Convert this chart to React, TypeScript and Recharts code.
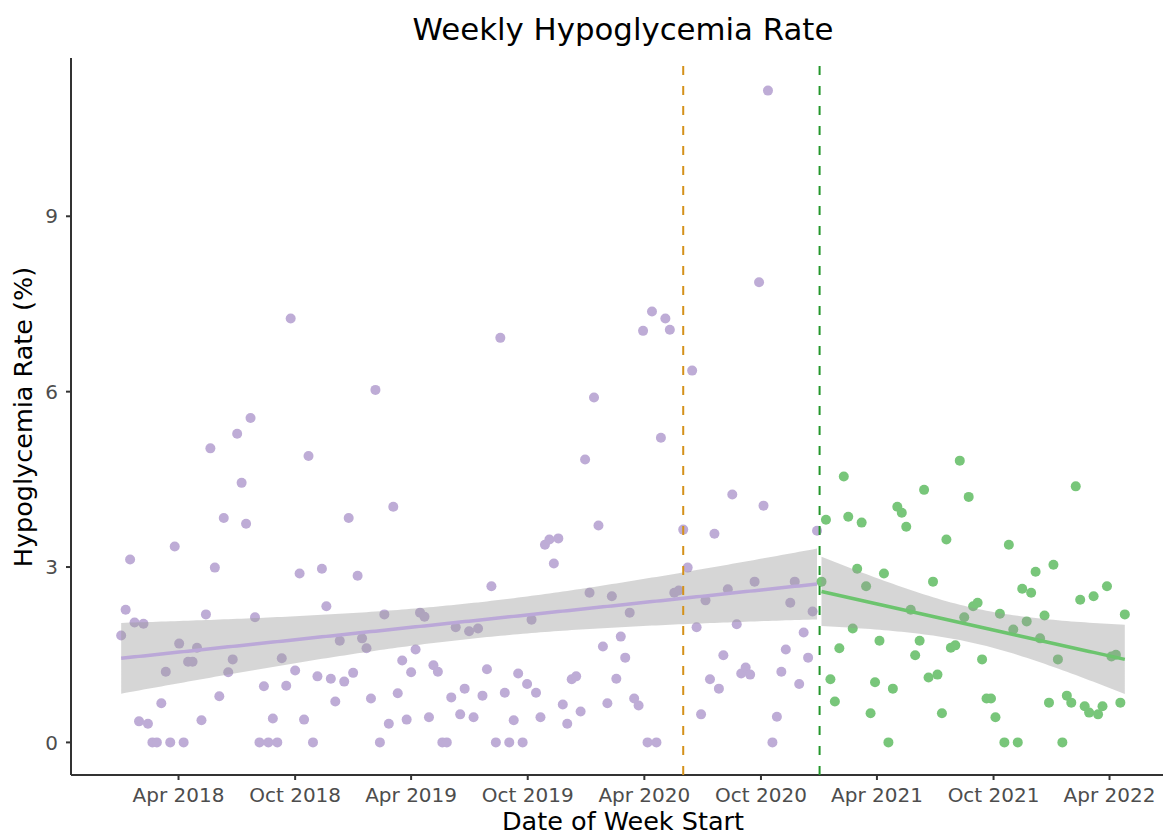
import { ComposedChart, Scatter, Line, Area, XAxis, YAxis, ReferenceLine } from 'recharts';

// weekly series, first week starts on START
const START = '2018-01-01';

// weeks before the green cut-off (purple)
const PRE_VALUES = [
  1.83, 2.27, 3.13, 2.05, 0.36, 2.03, 0.32, 0, 0, 0.67,
  1.21, 0, 3.35, 1.69, 0, 1.38, 1.38, 1.62, 0.38, 2.19,
  5.03, 2.99, 0.79, 3.84, 1.2, 1.42, 5.28, 4.44, 3.74, 5.55,
  2.14, 0, 0.96, 0, 0.41, 0, 1.44, 0.97, 7.25, 1.23,
  2.89, 0.39, 4.9, 0, 1.13, 2.97, 2.33, 1.09, 0.7, 1.74,
  1.04, 3.84, 1.19, 2.85, 1.78, 1.61, 0.75, 6.03, 0, 2.19,
  0.32, 4.03, 0.84, 1.4, 0.39, 1.2, 1.59, 2.22, 2.15, 0.43,
  1.32, 1.21, 0, 0, 0.77, 1.97, 0.48, 0.92, 1.9, 0.43,
  1.95, 0.8, 1.25, 2.67, 0, 6.92, 0.85, 0, 0.38, 1.18,
  0, 1.0, 2.1, 0.85, 0.43, 3.38, 3.47, 3.06, 3.49, 0.65,
  0.32, 1.08, 1.13, 0.53, 4.84, 2.56, 5.9, 3.71, 1.64, 0.67,
  2.5, 1.09, 1.81, 1.45, 2.22, 0.75, 0.63, 7.04, 0, 7.37,
  0, 5.21, 7.25, 7.06, 2.56, 2.6, 3.64, 2.99, 6.36, 1.97,
  0.48, 2.43, 1.08, 3.57, 0.92, 1.49, 2.62, 4.24, 2.02, 1.18,
  1.28, 1.16, 2.75, 7.87, 4.05, 11.15, 0, 0.44, 1.21, 1.59,
  2.39, 2.75, 1.0, 1.88, 1.45, 2.24, 3.62,
];

// weeks from the green cut-off on
const POST_VALUES = [
  2.75, 3.81, 1.08, 0.7, 1.61, 4.55, 3.86, 1.95, 2.97, 3.76,
  2.67, 0.5, 1.03, 1.74, 2.89, 0, 0.92, 4.03, 3.93, 3.69,
  2.27, 1.49, 1.74, 4.32, 1.11, 2.75, 1.16, 0.5, 3.47, 1.62,
  1.66, 4.82, 2.14, 4.2, 2.33, 2.39, 1.42, 0.75, 0.75, 0.43,
  2.2, 0, 3.38, 1.93, 0, 2.63, 2.07, 2.56, 2.92, 1.78,
  2.17, 0.68, 3.04, 1.42, 0, 0.8, 0.68, 4.38, 2.44, 0.62,
  0.51, 2.5, 0.48, 0.62, 2.67, 1.47, 1.5, 0.68, 2.19,
];

const TICK_DATES = [
  '2018-04-01', '2018-10-01', '2019-04-01', '2019-10-01', '2020-04-01',
  '2020-10-01', '2021-04-01', '2021-10-01', '2022-04-01',
];
const TICK_LABELS = [
  'Apr 2018', 'Oct 2018', 'Apr 2019', 'Oct 2019', 'Apr 2020',
  'Oct 2020', 'Apr 2021', 'Oct 2021', 'Apr 2022',
];
const Y_TICKS = [0, 3, 6, 9];

const ORANGE_DATE = '2020-06-01';
const GREEN_DATE = '2021-01-01';

const PURPLE = '#BEACD6';
const GREEN = '#78C67A';
const FONT = '"DejaVu Sans", sans-serif';

const DAY_MS = 86400000;
const dayOf = (s: string) => (Date.parse(s) - Date.parse(START)) / DAY_MS;

const prePoints = PRE_VALUES.map((v, i) => ({ d: i * 7, v }));
const postPoints = POST_VALUES.map((v, j) => ({ d: (PRE_VALUES.length + j) * 7, v }));

// linear fit with 95% confidence band, like geom_smooth(method = "lm")
function fitLm(points: { d: number; v: number }[]) {
  const n = points.length;
  const xbar = points.reduce((s, p) => s + p.d, 0) / n;
  const ybar = points.reduce((s, p) => s + p.v, 0) / n;
  let sxx = 0;
  let sxy = 0;
  points.forEach((p) => {
    sxx += (p.d - xbar) ** 2;
    sxy += (p.d - xbar) * (p.v - ybar);
  });
  const b = sxy / sxx;
  const a = ybar - b * xbar;
  const sse = points.reduce((s, p) => s + (p.v - a - b * p.d) ** 2, 0);
  const sigma = Math.sqrt(sse / (n - 2));
  const t = 1.96 + 2.5 / (n - 2);
  return points.map((p) => {
    const yhat = a + b * p.d;
    const se = sigma * Math.sqrt(1 / n + (p.d - xbar) ** 2 / sxx);
    return { d: p.d, fit: yhat, band: [yhat - t * se, yhat + t * se] };
  });
}

const fitRows = [
  ...fitLm(prePoints).map((r) => ({ d: r.d, preFit: r.fit, preBand: r.band })),
  ...fitLm(postPoints).map((r) => ({ d: r.d, postFit: r.fit, postBand: r.band })),
];

const lastDay = (PRE_VALUES.length + POST_VALUES.length - 1) * 7;
const xPad = lastDay * 0.05;
const maxV = Math.max(...PRE_VALUES, ...POST_VALUES);
const yPad = maxV * 0.05;
const xDomain = [-xPad, lastDay + xPad];
const yDomain = [-yPad, maxV + yPad];

const tickDays = TICK_DATES.map(dayOf);
const tickLabel = (d: number) => TICK_LABELS[tickDays.indexOf(d)] ?? '';

const axisStroke = { stroke: '#333333', strokeWidth: 2 };
const tickStyle = { fill: '#4D4D4D', fontSize: 20, fontFamily: FONT };

const CHART_W = 1185;
const CHART_H = 835;
const AXIS_W = 71;
const AXIS_H = 60;
const chartMargin = { top: 58, right: 10, bottom: 0, left: 0 };
const overlayMargin = { top: 58, right: 10, bottom: AXIS_H, left: AXIS_W };

const dot = (color: string) => (p: any) => <circle cx={p.cx} cy={p.cy} r={5} fill={color} />;

export default function App() {
  return (
    <div
      style={{
        position: 'fixed',
        left: 0,
        top: 0,
        width: 1163,
        height: 835,
        overflow: 'hidden',
        background: '#ffffff',
        fontFamily: FONT,
      }}
    >
      {/* axes and points */}
      <div style={{ position: 'absolute', left: 0, top: 0 }}>
        <ComposedChart width={CHART_W} height={CHART_H} data={fitRows} margin={chartMargin}>
          <XAxis
            type="number"
            dataKey="d"
            domain={xDomain}
            allowDataOverflow
            ticks={tickDays}
            tickFormatter={tickLabel}
            interval={0}
            height={AXIS_H}
            tickSize={5}
            tickMargin={8}
            axisLine={axisStroke}
            tickLine={axisStroke}
            tick={tickStyle}
          />
          <YAxis
            type="number"
            domain={yDomain}
            allowDataOverflow
            ticks={Y_TICKS}
            interval={0}
            width={AXIS_W}
            tickSize={5}
            tickMargin={8}
            axisLine={axisStroke}
            tickLine={axisStroke}
            tick={tickStyle}
          />
          <Scatter data={prePoints} dataKey="v" fill={PURPLE} shape={dot(PURPLE)} isAnimationActive={false} />
          <Scatter data={postPoints} dataKey="v" fill={GREEN} shape={dot(GREEN)} isAnimationActive={false} />
        </ComposedChart>
      </div>
      {/* smooth bands, fit lines and cut-off lines drawn over the points */}
      <div style={{ position: 'absolute', left: 0, top: 0 }}>
        <ComposedChart width={CHART_W} height={CHART_H} data={fitRows} margin={overlayMargin}>
          <XAxis type="number" dataKey="d" domain={xDomain} allowDataOverflow hide />
          <YAxis type="number" domain={yDomain} allowDataOverflow hide />
          <Area type="linear" dataKey="preBand" stroke="none" fill="#999999" fillOpacity={0.4} isAnimationActive={false} activeDot={false} />
          <Area type="linear" dataKey="postBand" stroke="none" fill="#999999" fillOpacity={0.4} isAnimationActive={false} activeDot={false} />
          <Line type="linear" dataKey="preFit" stroke="#BBA8D8" strokeWidth={3.5} dot={false} activeDot={false} isAnimationActive={false} />
          <Line type="linear" dataKey="postFit" stroke="#6CC46E" strokeWidth={3.5} dot={false} activeDot={false} isAnimationActive={false} />
          <ReferenceLine x={dayOf(ORANGE_DATE)} stroke="#D4911A" strokeWidth={2} strokeDasharray="9 11" />
          <ReferenceLine x={dayOf(GREEN_DATE)} stroke="#22962A" strokeWidth={2} strokeDasharray="9 11" />
        </ComposedChart>
      </div>
      <svg
        width={1163}
        height={835}
        style={{ position: 'absolute', left: 0, top: 0, pointerEvents: 'none' }}
      >
        <text x={623} y={40} textAnchor="middle" fontSize={30.8} fontFamily={FONT} fill="#000000">
          Weekly Hypoglycemia Rate
        </text>
        <text x={623} y={830} textAnchor="middle" fontSize={25.5} fontFamily={FONT} fill="#000000">
          Date of Week Start
        </text>
        <text
          x={32}
          y={417}
          textAnchor="middle"
          fontSize={25.5}
          fontFamily={FONT}
          fill="#000000"
          transform="rotate(-90 32 417)"
        >
          Hypoglycemia Rate (%)
        </text>
      </svg>
    </div>
  );
}
